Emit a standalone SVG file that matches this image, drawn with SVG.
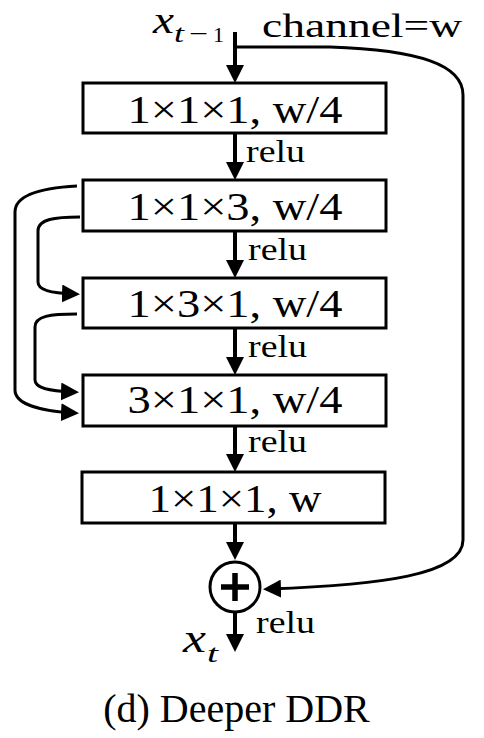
<svg xmlns="http://www.w3.org/2000/svg" width="484" height="738" viewBox="0 0 484 738">
<style>
.box{fill:#fff;stroke:#000;stroke-width:3}
.bt{font-family:"Liberation Serif",serif;font-size:39px;text-anchor:middle;fill:#000}
.relu{font-family:"Liberation Serif",serif;font-size:32px;fill:#000}
.main{fill:none;stroke:#000;stroke-width:4;marker-end:url(#ah)}
.side{fill:none;stroke:#000;stroke-width:3;marker-end:url(#ah)}
.math{font-family:"Liberation Serif",serif;font-style:italic;fill:#000}
.up{font-family:"Liberation Serif",serif;fill:#000}
</style>
<defs>
<marker id="ah" markerUnits="userSpaceOnUse" markerWidth="18" markerHeight="18" refX="12" refY="9" orient="auto">
<path d="M0,0 L18,9 L0,18 z" fill="#000"/>
</marker>
</defs>
<g id="connectors">
<path class="main" d="M235,32 L235,77"/>
<path class="main" d="M235,133 L235,174"/>
<path class="main" d="M235,231 L235,272"/>
<path class="main" d="M235,328 L235,369"/>
<path class="main" d="M235,426 L235,466"/>
<path class="main" d="M235,523 L235,554"/>
<path class="main" d="M235,612 L235,646"/>
<path class="side" d="M236,47 L330,47 C420,50 463,65 463,95 L463,540 C463,575 380,585 269,589"/>
<path class="side" d="M77,186 C40,188 15,195 15,212 L15,390 C15,404 40,411 73,413"/>
<path class="side" d="M80,217 C55,217 38,219 38,231 L38,282 C38,290 50,293 74,294"/>
<path class="side" d="M77,314 C50,314 35,316 35,327 L35,380 C35,388 48,391 73,392"/>
</g>
<g id="input">
<text class="math" x="153" y="33" font-size="37" textLength="21" lengthAdjust="spacingAndGlyphs">x</text>
<text class="math" x="174" y="42" font-size="25" textLength="10" lengthAdjust="spacingAndGlyphs">t</text>
<text class="up" x="189" y="42" font-size="25" textLength="19" lengthAdjust="spacingAndGlyphs">−</text>
<text class="up" x="213" y="42" font-size="22">1</text>
<text class="up" x="262" y="37" font-size="33" textLength="200" lengthAdjust="spacingAndGlyphs">channel=w</text>
</g>
<g id="conv1"><rect class="box" x="83" y="83" width="303" height="50"/><text class="bt" x="235" y="123" textLength="215" lengthAdjust="spacingAndGlyphs">1×1×1, w/4</text></g>
<g id="conv2"><rect class="box" x="83" y="180" width="303" height="51"/><text class="bt" x="235" y="220" textLength="215" lengthAdjust="spacingAndGlyphs">1×1×3, w/4</text></g>
<g id="conv3"><rect class="box" x="83" y="278" width="303" height="50"/><text class="bt" x="235" y="317" textLength="215" lengthAdjust="spacingAndGlyphs">1×3×1, w/4</text></g>
<g id="conv4"><rect class="box" x="83" y="375" width="303" height="51"/><text class="bt" x="235" y="413" textLength="215" lengthAdjust="spacingAndGlyphs">3×1×1, w/4</text></g>
<g id="conv5"><rect class="box" x="82" y="472" width="303" height="51"/><text class="bt" x="235" y="512" textLength="173" lengthAdjust="spacingAndGlyphs">1×1×1, w</text></g>
<g id="relu-labels">
<text class="relu" x="246" y="162" textLength="59" lengthAdjust="spacingAndGlyphs">relu</text>
<text class="relu" x="248" y="260" textLength="59" lengthAdjust="spacingAndGlyphs">relu</text>
<text class="relu" x="248" y="357" textLength="59" lengthAdjust="spacingAndGlyphs">relu</text>
<text class="relu" x="248" y="452" textLength="59" lengthAdjust="spacingAndGlyphs">relu</text>
<text class="relu" x="256" y="633" textLength="59" lengthAdjust="spacingAndGlyphs">relu</text>
</g>
<g id="add">
<circle cx="235" cy="587" r="25" fill="#fff" stroke="#000" stroke-width="3"/>
<path d="M221,587 L249,587 M235,573 L235,601" stroke="#000" stroke-width="5.5"/>
</g>
<g id="output">
<text class="math" x="183" y="652" font-size="40" textLength="23" lengthAdjust="spacingAndGlyphs">x</text>
<text class="math" x="207" y="662" font-size="25" textLength="11" lengthAdjust="spacingAndGlyphs">t</text>
</g>
<text x="236.5" y="722" font-family="Liberation Serif,serif" font-size="40" text-anchor="middle">(d) Deeper DDR</text>
</svg>
